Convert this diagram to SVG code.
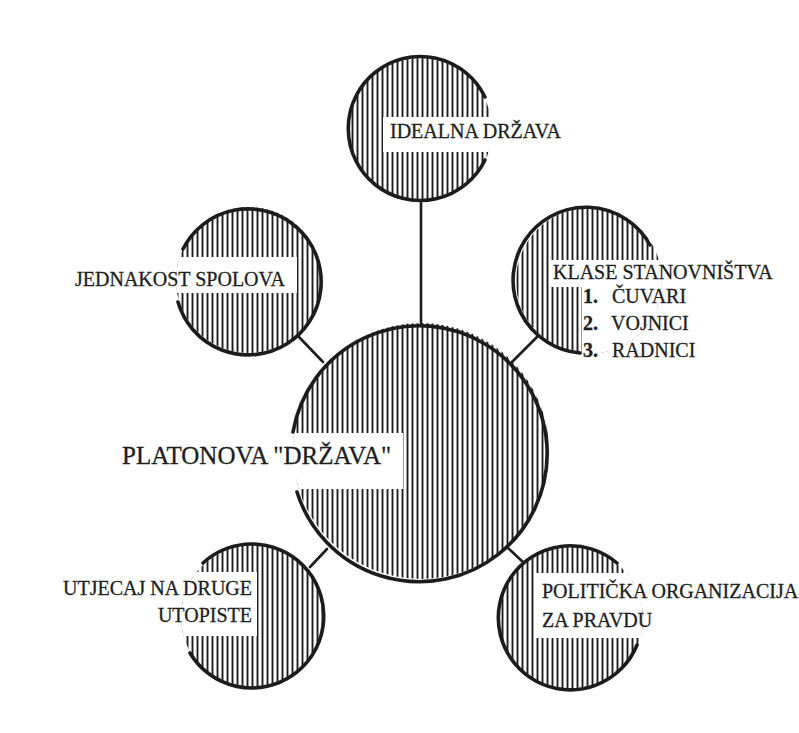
<svg xmlns="http://www.w3.org/2000/svg" width="799" height="733" viewBox="0 0 799 733">
<defs>
  <pattern id="hatch" patternUnits="userSpaceOnUse" width="5" height="12">
    <line x1="2.5" y1="0" x2="2.5" y2="12" stroke="#1e1e1e" stroke-width="1.9"/>
  </pattern>
  <clipPath id="cTop"><circle cx="420" cy="130" r="72"/></clipPath>
  <clipPath id="cLeft"><circle cx="249" cy="280" r="73"/></clipPath>
  <clipPath id="cRight"><circle cx="589" cy="281" r="73"/></clipPath>
  <clipPath id="cBL"><circle cx="253" cy="617" r="72"/></clipPath>
  <clipPath id="cBR"><circle cx="571" cy="619" r="72"/></clipPath>
  <clipPath id="cMain"><circle cx="421" cy="451" r="128"/></clipPath>
</defs>
<style>
  .fill { fill: url(#hatch); }
  .blank { fill: #ffffff; }
  .rim { fill: none; stroke: #1c1c1c; stroke-width: 3.6; stroke-linecap: round; }
  .link { stroke: #1c1c1c; stroke-width: 2.6; stroke-linecap: round; fill: none; }
  text { font-family: 'Liberation Serif', 'Times New Roman', serif; fill: #1e1e1e; stroke: #1e1e1e; stroke-width: 0.3; }
  .lbl { font-size: 20px; }
  .big { font-size: 25px; }
  .num { font-size: 20px; font-weight: bold; }
</style>
<rect width="799" height="733" fill="#ffffff"/>

<g id="connectors">
  <line class="link" x1="421" y1="203" x2="421" y2="323"/>
  <line class="link" x1="299" y1="337" x2="323" y2="362"/>
  <line class="link" x1="537" y1="337" x2="512" y2="362"/>
  <line class="link" x1="310" y1="567" x2="327" y2="549"/>
  <line class="link" x1="508" y1="548" x2="524" y2="563"/>
</g>

<g id="node-main">
  <circle class="fill" cx="421" cy="451" r="128"/>
  <rect class="blank" x="280" y="433" width="123" height="56" clip-path="url(#cMain)"/>
  <path class="rim" d="M293,432 A128,128 0 1 1 297,492"/>
  <text class="big" x="122" y="464">PLATONOVA "DRŽAVA"</text>
</g>

<g id="node-idealna">
  <circle class="fill" cx="420" cy="130" r="72"/>
  <rect class="blank" x="383" y="117" width="115" height="35" clip-path="url(#cTop)"/>
  <path class="rim" d="M485,97 A72,72 0 1 0 485,160"/>
  <text class="lbl" x="390" y="138">IDEALNA DRŽAVA</text>
</g>

<g id="node-jednakost">
  <circle class="fill" cx="249" cy="280" r="73"/>
  <rect class="blank" x="170" y="257" width="127" height="36" clip-path="url(#cLeft)"/>
  <path class="rim" d="M183,249 A73,73 0 1 1 178,302"/>
  <text class="lbl" x="75" y="286">JEDNAKOST SPOLOVA</text>
</g>

<g id="node-klase">
  <circle class="fill" cx="589" cy="281" r="73"/>
  <rect class="blank" x="550" y="260" width="120" height="27" clip-path="url(#cRight)"/>
  <rect class="blank" x="582" y="286" width="90" height="75" clip-path="url(#cRight)"/>
  <path class="rim" d="M650,245 A73,73 0 1 0 580,353"/>
  <text class="lbl" x="553" y="279">KLASE STANOVNIŠTVA</text>
  <text class="num" x="583" y="303">1.</text>
  <text class="lbl" x="612" y="303">ČUVARI</text>
  <text class="num" x="583" y="330">2.</text>
  <text class="lbl" x="611" y="330">VOJNICI</text>
  <text class="num" x="583" y="357">3.</text>
  <text class="lbl" x="612" y="357">RADNICI</text>
</g>

<g id="node-utjecaj">
  <circle class="fill" cx="253" cy="617" r="72"/>
  <rect class="blank" x="175" y="572" width="82" height="64" clip-path="url(#cBL)"/>
  <path class="rim" d="M203,563 A72,72 0 1 1 190,653"/>
  <text class="lbl" x="252" y="595" text-anchor="end">UTJECAJ NA DRUGE</text>
  <text class="lbl" x="252" y="622" text-anchor="end">UTOPISTE</text>
</g>

<g id="node-politicka">
  <circle class="fill" cx="571" cy="619" r="72"/>
  <rect class="blank" x="535" y="573" width="115" height="65" clip-path="url(#cBR)"/>
  <path class="rim" d="M617,563 A72,72 0 1 0 637,645"/>
  <text class="lbl" x="542" y="598">POLITIČKA ORGANIZACIJA</text>
  <text class="lbl" x="542" y="627">ZA PRAVDU</text>
</g>
</svg>
